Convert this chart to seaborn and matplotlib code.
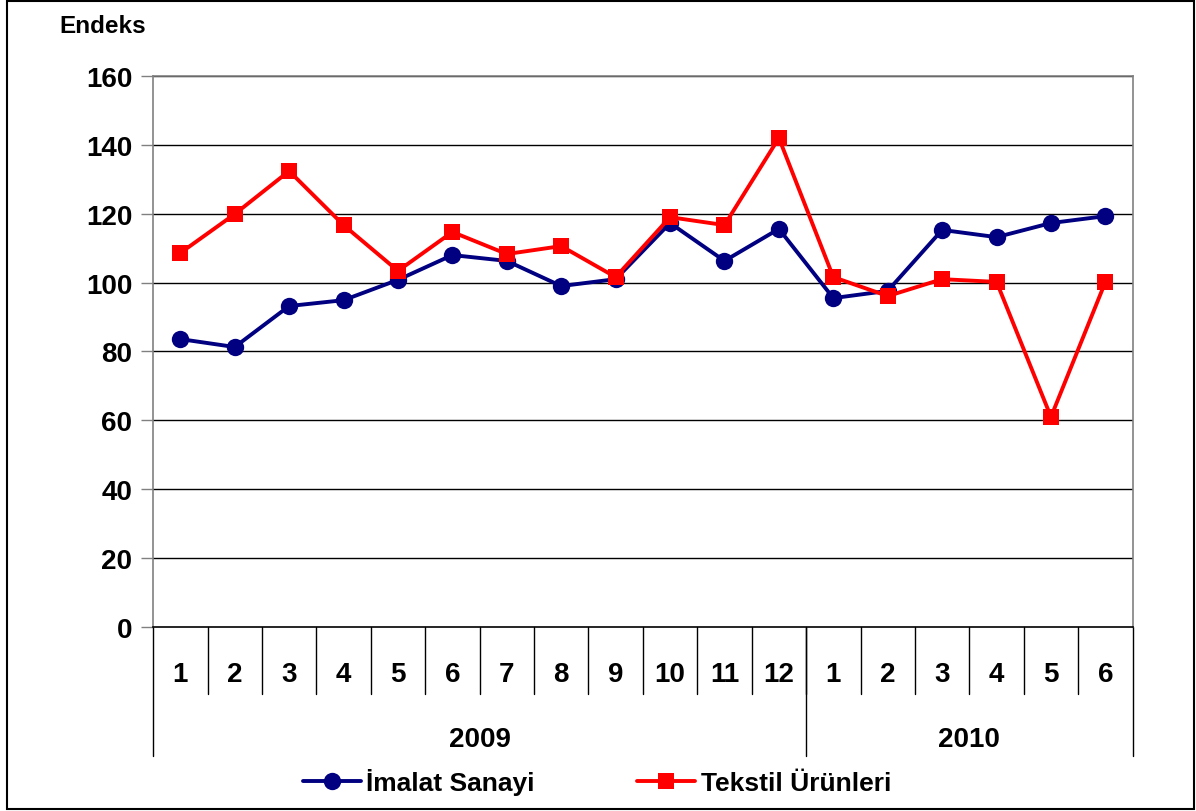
import matplotlib
matplotlib.use("Agg")
import matplotlib.pyplot as plt
import matplotlib.transforms as mtransforms
from matplotlib.lines import Line2D
from matplotlib.patches import Rectangle
import numpy as np
import pandas as pd
import seaborn as sns

# data
months = ["1", "2", "3", "4", "5", "6", "7", "8", "9", "10", "11", "12",
          "1", "2", "3", "4", "5", "6"]
years = ["2009", "2010"]
year_lengths = [12, 6]
imalat = [83.6, 81.3, 93.2, 94.9, 100.8, 108.0, 106.3, 99.0, 101.0, 117.3,
          106.3, 115.6, 95.5, 97.6, 115.3, 113.2, 117.3, 119.3]
tekstil = [108.6, 119.9, 132.4, 116.7, 103.4, 114.7, 108.3, 110.6, 101.6,
           119.0, 116.7, 142.0, 101.6, 96.1, 101.0, 100.2, 61.0, 100.2]
y_ticks = [0, 20, 40, 60, 80, 100, 120, 140, 160]

sns.set_theme(style="white")
plt.rcParams['font.family'] = ['Liberation Sans', 'DejaVu Sans']
plt.rcParams['font.weight'] = 'bold'
plt.rcParams['text.color'] = 'black'
plt.rcParams['ytick.color'] = 'black'

FS = 20
fig = plt.figure(figsize=(11.96, 8.12), dpi=100)
ax = fig.add_axes([0.128, 0.2266, 0.819, 0.6786])

x = np.arange(len(months))
df = pd.DataFrame({"x": x, "imalat": imalat, "tekstil": tekstil})

sns.lineplot(data=df, x="x", y="imalat", ax=ax, color="#000080", lw=2.8,
             marker="o", markersize=12.5, markeredgewidth=0, zorder=3)
sns.lineplot(data=df, x="x", y="tekstil", ax=ax, color="#FF0000", lw=2.8,
             marker="s", markersize=11.5, markeredgewidth=0, zorder=4)

ax.set_xlim(-0.5, len(months) - 0.5)
ax.set_ylim(0, 160)
ax.set_yticks(y_ticks)
ax.set_yticklabels([str(v) for v in y_ticks], fontsize=FS, fontweight="bold")
ax.set_xticks([])
ax.set_xlabel("")
ax.set_ylabel("")
ax.tick_params(axis="y", length=9, width=1, color="#808080", left=True, pad=6)
for yv in y_ticks[1:]:
    ax.axhline(yv, color="black", lw=1, zorder=1)
for side in ["left", "right", "top", "bottom"]:
    ax.spines[side].set_color("#808080")
    ax.spines[side].set_linewidth(1.2)
ax.spines["bottom"].set_color("black")

# category table below the axis
trans = mtransforms.blended_transform_factory(ax.transData, ax.transAxes)
for i, m in enumerate(months):
    ax.text(i, -0.085, m, transform=trans, ha="center", va="center",
            fontsize=FS, fontweight="bold")
for k in range(1, len(months)):
    ax.add_line(Line2D([k - 0.5, k - 0.5], [0, -0.122], transform=trans,
                       color="black", lw=1, clip_on=False))
start = 0
edges = [-0.5]
for yr, n in zip(years, year_lengths):
    ax.text(start + (n - 1) / 2, -0.203, yr, transform=trans, ha="center",
            va="center", fontsize=FS, fontweight="bold")
    start += n
    edges.append(start - 0.5)
for e in edges:
    ax.add_line(Line2D([e, e], [0, -0.234], transform=trans,
                       color="black", lw=1, clip_on=False))

fig.text(0.05, 0.967, "Endeks", fontsize=17.5, fontweight="bold",
         ha="left", va="center")

handles = [Line2D([], [], color="#000080", lw=2.8, marker="o", markersize=12.5,
                  markeredgewidth=0),
           Line2D([], [], color="#FF0000", lw=2.8, marker="s", markersize=11.5,
                  markeredgewidth=0)]
fig.legend(handles, ["İmalat Sanayi", "Tekstil Ürünleri"], loc="center",
           bbox_to_anchor=(0.499, 0.036), ncol=2, frameon=False,
           prop={"size": 19, "weight": "bold"}, handlelength=2.2,
           handletextpad=0.2, columnspacing=3.9)

fig.patches.append(Rectangle((0.006, 0.003), 0.992, 0.994,
                             transform=fig.transFigure, fill=False,
                             edgecolor="black", lw=1.5))

fig.savefig("out.png", dpi=100)
